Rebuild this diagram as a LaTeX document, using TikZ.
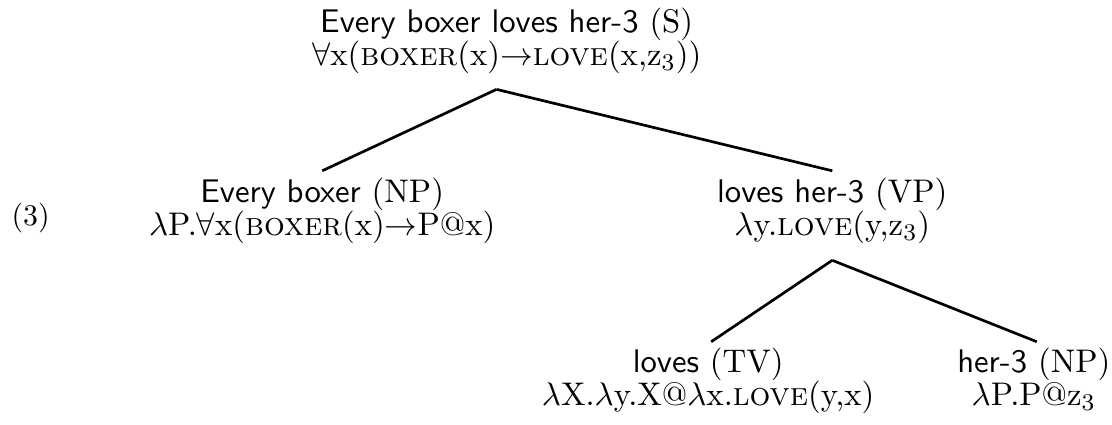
\documentclass[tikz,border=0pt]{standalone}

\newcommand{\pr}[1]{\textsc{#1}}
\newcommand{\cat}[2]{{\sffamily #1} (#2)}

\tikzset{
  cnode/.style={anchor=north, align=center, inner sep=0pt,
    font=\fontsize{10.95}{11}\selectfont},
  branch/.style={line width=0.9pt}
}

\begin{document}
\begin{tikzpicture}
  \useasboundingbox (0,0) rectangle (13.08,-4.99);

  % example number
  \node (num) at (0.36,-2.56) {(3)};

  % tree nodes: category on top, meaning below
  \node[cnode] (root) at (5.96,-0.09)
    {\cat{Every boxer loves her-3}{S}\\
     $\forall$x(\pr{boxer}(x)$\rightarrow$\pr{love}(x,z$_3$))};
  \node[cnode] (np) at (3.79,-2.09)
    {\cat{Every boxer}{NP}\\
     $\lambda$P.$\forall$x(\pr{boxer}(x)$\rightarrow$P@x)};
  \node[cnode] (vp) at (9.79,-2.09)
    {\cat{loves her-3}{VP}\\
     $\lambda$y.\pr{love}(y,z$_3$)};
  \node[cnode] (tv) at (8.33,-4.09)
    {\cat{loves}{TV}\\
     $\lambda$X.$\lambda$y.X@$\lambda$x.\pr{love}(y,x)};
  \node[cnode] (her) at (12.16,-4.09)
    {\cat{her-3}{NP}\\
     $\lambda$P.P@z$_3$};

  % branches
  \draw[branch] ([xshift=-3.4pt,yshift=-5pt]root.south) -- ([yshift=2.3pt]np.north);
  \draw[branch] ([xshift=-3.4pt,yshift=-5pt]root.south) -- ([yshift=2.3pt]vp.north);
  \draw[branch] ([yshift=-5.3pt]vp.south) -- ([xshift=1pt,yshift=2pt]tv.north);
  \draw[branch] ([yshift=-5.3pt]vp.south) -- ([xshift=1pt,yshift=2pt]her.north);
\end{tikzpicture}
\end{document}
